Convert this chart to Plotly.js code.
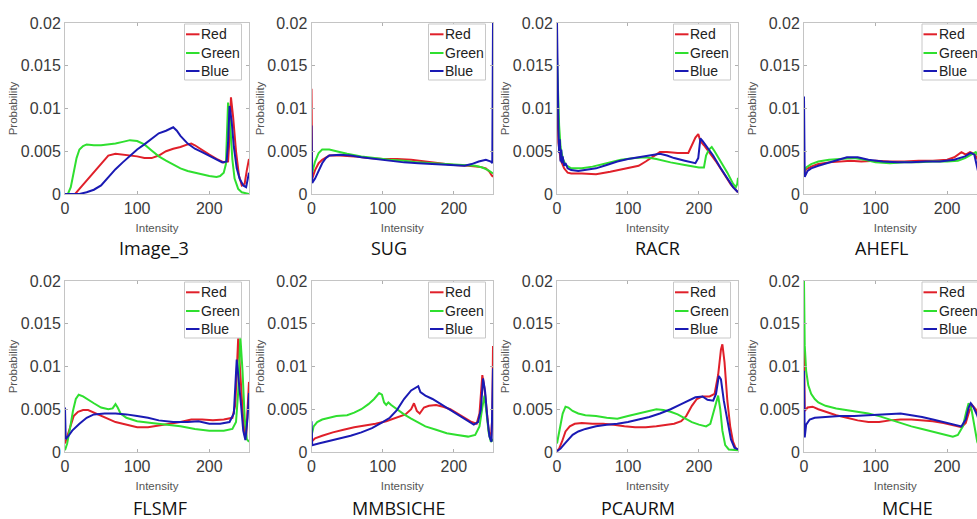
<!DOCTYPE html>
<html>
<head>
<meta charset="utf-8">
<script src="https://cdn.plot.ly/plotly-3.0.1.min.js"></script>
<style>
html,body{margin:0;padding:0;overflow:hidden;background:#fff;}
#chart{width:1000px;height:519px;}
</style>
</head>
<body>
<div id="chart"></div>
<script>
// ---------- data ----------
const panelNames = ["Image_3","SUG","RACR","AHEFL","FLSMF","MMBSICHE","PCAURM","MCHE"];
const channelNames = ["Red","Green","Blue"];
const intensityTicks = [0,100,200];
const probabilityTicks = [0,0.005,0.01,0.015,0.02];
const probabilityTickLabels = ["0","0.005","0.01","0.015","0.02"];

// [intensity, probability]
const image3Red = [[0,0],[14,0],[20,0.0006],[30,0.0016],[40,0.0026],[50,0.0036],[60,0.0045],[70,0.0047],[80,0.0046],[90,0.0045],[100,0.0044],[110,0.0042],[120,0.0042],[130,0.0045],[140,0.005],[150,0.0053],[160,0.0055],[170,0.0058],[175,0.0059],[180,0.0057],[190,0.0052],[200,0.0046],[210,0.0041],[220,0.0037],[226,0.0038],[228,0.0065],[230,0.0113],[233,0.009],[237,0.005],[241,0.0022],[245,0.001],[249,0.0012],[252,0.0028],[255,0.0041]];
const image3Green = [[0,0],[4,0],[8,0.0008],[12,0.0025],[16,0.0042],[20,0.0052],[25,0.0056],[30,0.0058],[40,0.0057],[50,0.0057],[60,0.0058],[70,0.0059],[80,0.0061],[90,0.0063],[100,0.0062],[110,0.0058],[120,0.0051],[130,0.0044],[140,0.0039],[150,0.0034],[160,0.003],[170,0.0027],[180,0.0025],[190,0.0023],[200,0.0021],[210,0.002],[215,0.0021],[220,0.0025],[223,0.0035],[226,0.0107],[229,0.008],[232,0.004],[235,0.0018],[240,0.0006],[245,0.0002],[255,0]];
const image3Blue = [[0,0],[20,0],[30,0.0002],[40,0.0005],[50,0.001],[55,0.0015],[62,0.0022],[70,0.0029],[80,0.0037],[90,0.0045],[100,0.0052],[110,0.0058],[120,0.0065],[130,0.0071],[140,0.0074],[150,0.0078],[155,0.0074],[160,0.0068],[170,0.0059],[180,0.0053],[190,0.0049],[200,0.0045],[210,0.0041],[218,0.0037],[224,0.0038],[226,0.006],[228,0.0103],[231,0.0085],[234,0.0055],[238,0.003],[242,0.0018],[247,0.001],[251,0.0008],[253,0.0015],[255,0.0025]];

const sugRed = [[0,0.0123],[1,0.0018],[5,0.0028],[10,0.0036],[15,0.004],[20,0.0043],[25,0.0045],[40,0.0045],[60,0.0044],[80,0.0042],[100,0.0041],[120,0.0041],[140,0.004],[160,0.0038],[180,0.0036],[200,0.0034],[220,0.0033],[235,0.0032],[245,0.003],[250,0.0026],[253,0.0022],[255,0.002]];
const sugGreen = [[0,0.0024],[1,0.0025],[5,0.0038],[10,0.0048],[15,0.0052],[25,0.0052],[35,0.005],[50,0.0047],[70,0.0044],[90,0.0042],[110,0.004],[130,0.0039],[150,0.0037],[170,0.0036],[190,0.0035],[210,0.0034],[230,0.0033],[240,0.0031],[248,0.0028],[255,0.0024]];
const sugBlue = [[0,0.008],[1,0.0013],[5,0.0018],[10,0.0028],[15,0.0036],[20,0.0042],[25,0.0045],[40,0.0046],[55,0.0045],[70,0.0043],[90,0.0041],[110,0.0039],[130,0.0037],[150,0.0036],[170,0.0035],[190,0.0034],[205,0.0033],[215,0.0033],[225,0.0035],[235,0.0038],[245,0.004],[252,0.0038],[254,0.0036],[255,0.02]];

const racrRed = [[0,0.012],[2,0.006],[5,0.004],[10,0.003],[15,0.0025],[20,0.0024],[35,0.0024],[55,0.0023],[75,0.0026],[100,0.003],[115,0.0033],[125,0.0038],[135,0.0044],[145,0.0049],[155,0.0049],[170,0.0048],[185,0.0048],[190,0.0058],[195,0.0066],[199,0.007],[202,0.0062],[207,0.0057],[215,0.0048],[225,0.0037],[235,0.0024],[245,0.0011],[255,0.0002]];
const racrGreen = [[0,0.016],[1,0.013],[3,0.008],[5,0.0055],[8,0.0042],[12,0.0034],[20,0.003],[35,0.003],[50,0.0032],[70,0.0036],[90,0.004],[110,0.0042],[125,0.0043],[140,0.0041],[160,0.0037],[180,0.0034],[200,0.0031],[207,0.0031],[210,0.0045],[214,0.0052],[218,0.0055],[222,0.005],[230,0.0039],[240,0.0025],[248,0.0012],[252,0.0008],[254,0.0012],[255,0.0019]];
const racrBlue = [[0,0.02],[1,0.011],[2,0.0075],[3,0.0048],[4,0.0064],[5,0.0038],[6,0.0052],[7,0.0036],[8,0.0044],[10,0.0033],[12,0.0036],[15,0.003],[20,0.0028],[30,0.0027],[40,0.0028],[55,0.003],[70,0.0034],[85,0.0038],[100,0.0041],[115,0.0043],[130,0.0045],[145,0.0047],[155,0.0045],[165,0.0042],[180,0.0039],[195,0.0036],[199,0.0042],[202,0.0065],[205,0.0062],[210,0.0056],[220,0.0045],[230,0.0031],[240,0.0018],[248,0.0008],[255,0.0002]];

const aheflRed = [[0,0.0025],[3,0.0029],[10,0.0032],[20,0.0035],[35,0.0037],[50,0.0038],[65,0.0039],[80,0.0038],[100,0.0039],[120,0.0038],[140,0.0038],[160,0.0039],[180,0.0039],[200,0.004],[210,0.0043],[220,0.0049],[226,0.0046],[232,0.0049],[238,0.0047],[243,0.004],[248,0.003],[255,0.002]];
const aheflGreen = [[0,0.0027],[3,0.0031],[10,0.0035],[20,0.0038],[35,0.004],[50,0.0041],[70,0.0042],[85,0.004],[100,0.0037],[120,0.0036],[140,0.0037],[160,0.0037],[180,0.0038],[200,0.0038],[215,0.0039],[225,0.0042],[235,0.0047],[240,0.0049],[245,0.0042],[250,0.003],[255,0.002]];
const aheflBlue = [[0,0.0114],[1,0.002],[5,0.0027],[10,0.003],[20,0.0033],[35,0.0037],[50,0.0041],[60,0.0043],[75,0.0043],[90,0.004],[110,0.0038],[130,0.0037],[150,0.0037],[170,0.0038],[190,0.0038],[210,0.004],[225,0.0044],[233,0.0048],[238,0.0046],[243,0.0025],[247,0.0012],[255,0.0005]];

const flsmfRed = [[0,0.001],[3,0.0018],[7,0.003],[12,0.0042],[18,0.0047],[25,0.0049],[32,0.0049],[40,0.0046],[50,0.0042],[60,0.0038],[70,0.0035],[80,0.0033],[90,0.0031],[100,0.0029],[115,0.0029],[130,0.0031],[145,0.0033],[160,0.0035],[175,0.0038],[190,0.0038],[205,0.0037],[220,0.0038],[232,0.004],[236,0.0055],[240,0.0133],[243,0.009],[246,0.005],[249,0.002],[251,0.0018],[253,0.005],[255,0.0082]];
const flsmfGreen = [[0,0.0002],[3,0.001],[7,0.0028],[11,0.0048],[15,0.0062],[19,0.0067],[25,0.0065],[32,0.0061],[40,0.0057],[50,0.0052],[60,0.005],[66,0.0051],[70,0.0056],[73,0.0052],[77,0.0045],[85,0.004],[100,0.0036],[120,0.0034],[140,0.0032],[160,0.003],[180,0.0027],[200,0.0025],[220,0.0025],[232,0.0027],[237,0.0035],[240,0.007],[243,0.0135],[246,0.0095],[249,0.004],[252,0.0015],[255,0.0012]];
const flsmfBlue = [[0,0.0052],[1,0.0015],[5,0.0019],[10,0.0025],[20,0.0033],[30,0.004],[40,0.0044],[55,0.0045],[70,0.0045],[85,0.0044],[100,0.0042],[115,0.004],[130,0.0037],[150,0.0035],[170,0.0035],[185,0.0036],[200,0.0033],[215,0.0033],[228,0.0035],[234,0.0045],[238,0.0108],[241,0.0085],[244,0.0055],[247,0.0025],[250,0.0014],[253,0.004],[255,0.0069]];

const mmbsicheRed = [[0,0.0012],[5,0.0016],[15,0.0019],[30,0.0023],[45,0.0026],[60,0.0029],[75,0.0031],[90,0.0033],[105,0.0036],[120,0.004],[132,0.0044],[140,0.005],[144,0.0057],[148,0.0048],[152,0.0045],[158,0.0052],[165,0.0054],[175,0.0055],[185,0.0053],[195,0.005],[205,0.0045],[215,0.004],[225,0.0035],[232,0.0033],[236,0.0045],[240,0.009],[243,0.0075],[246,0.005],[249,0.0025],[252,0.0015],[254,0.004],[255,0.0124]];
const mmbsicheGreen = [[0,0.0019],[3,0.003],[8,0.0035],[15,0.0038],[25,0.004],[35,0.0042],[50,0.0043],[60,0.0046],[70,0.005],[80,0.0056],[88,0.0062],[95,0.0069],[99,0.0067],[102,0.0058],[105,0.0055],[108,0.0058],[112,0.0055],[120,0.005],[130,0.0044],[140,0.0039],[150,0.0034],[160,0.003],[175,0.0026],[190,0.0022],[205,0.002],[220,0.0018],[230,0.002],[236,0.003],[240,0.0052],[243,0.0066],[246,0.0045],[249,0.0022],[252,0.0012],[255,0.0015]];
const mmbsicheBlue = [[0,0.0036],[1,0.0008],[10,0.001],[25,0.0013],[40,0.0016],[55,0.0019],[70,0.0023],[85,0.0028],[100,0.0035],[110,0.004],[120,0.0049],[130,0.0062],[140,0.0072],[150,0.0077],[153,0.007],[160,0.0066],[170,0.0062],[180,0.0057],[190,0.0052],[200,0.0046],[210,0.0041],[220,0.0036],[228,0.0032],[234,0.0035],[238,0.005],[241,0.0086],[244,0.007],[247,0.004],[250,0.0018],[253,0.0012],[255,0.0098]];

const pcaurmRed = [[0,0.0001],[3,0.0004],[7,0.0012],[12,0.0024],[18,0.003],[25,0.0033],[35,0.0034],[50,0.0033],[65,0.0033],[80,0.0032],[95,0.003],[110,0.0029],[125,0.0029],[140,0.003],[155,0.0032],[165,0.0033],[175,0.0036],[182,0.0042],[190,0.0054],[197,0.0062],[205,0.0065],[215,0.0065],[222,0.0068],[227,0.009],[231,0.012],[233,0.0126],[236,0.0105],[240,0.006],[244,0.003],[248,0.0012],[252,0.0004],[255,0.0002]];
const pcaurmGreen = [[0,0.001],[2,0.0018],[5,0.0032],[8,0.0045],[12,0.0053],[16,0.0052],[22,0.0048],[30,0.0045],[40,0.0043],[55,0.0042],[70,0.004],[85,0.0039],[100,0.0042],[115,0.0045],[130,0.0048],[140,0.005],[150,0.0049],[160,0.0047],[170,0.0044],[180,0.0039],[190,0.0035],[200,0.0032],[210,0.003],[216,0.0033],[220,0.0045],[224,0.006],[227,0.0066],[230,0.005],[233,0.0025],[237,0.0008],[242,0.0003],[255,0.0002]];
const pcaurmBlue = [[0,0.0001],[5,0.0004],[10,0.0009],[15,0.0014],[22,0.002],[30,0.0024],[40,0.0027],[55,0.003],[70,0.0032],[85,0.0033],[100,0.0035],[115,0.0038],[130,0.0041],[145,0.0045],[160,0.005],[175,0.0056],[185,0.006],[195,0.0064],[205,0.0065],[212,0.0061],[220,0.006],[224,0.0068],[228,0.0089],[231,0.0085],[235,0.006],[240,0.0035],[245,0.0015],[250,0.0005],[255,0.0003]];

const mcheRed = [[0,0.0123],[1,0.0048],[5,0.0052],[12,0.0053],[20,0.005],[30,0.0047],[45,0.0043],[60,0.004],[75,0.0037],[90,0.0035],[105,0.0035],[120,0.0037],[135,0.0038],[150,0.0038],[165,0.0037],[180,0.0036],[195,0.0034],[210,0.0031],[220,0.0029],[226,0.0034],[231,0.0048],[235,0.0055],[240,0.005],[245,0.004],[250,0.003],[255,0.002]];
const mcheGreen = [[0,0.02],[1,0.0125],[3,0.0095],[6,0.0078],[10,0.0068],[15,0.0062],[20,0.0058],[30,0.0054],[45,0.0051],[60,0.0049],[75,0.0047],[90,0.0045],[105,0.0042],[120,0.0038],[135,0.0034],[150,0.003],[165,0.0027],[180,0.0024],[195,0.0021],[208,0.0018],[215,0.002],[222,0.003],[227,0.0048],[230,0.0057],[234,0.005],[238,0.0032],[242,0.0012],[246,0.0005],[255,0.0003]];
const mcheBlue = [[0,0.0095],[1,0.0017],[3,0.0032],[8,0.0038],[15,0.004],[30,0.0041],[50,0.0042],[70,0.0042],[90,0.0043],[105,0.0044],[120,0.0045],[135,0.0045],[150,0.0043],[165,0.0041],[180,0.0038],[195,0.0035],[210,0.0032],[220,0.003],[226,0.0038],[230,0.0052],[233,0.0057],[237,0.0052],[242,0.0043],[247,0.003],[255,0.002]];

const panelSeries = [
  [image3Red, image3Green, image3Blue],
  [sugRed, sugGreen, sugBlue],
  [racrRed, racrGreen, racrBlue],
  [aheflRed, aheflGreen, aheflBlue],
  [flsmfRed, flsmfGreen, flsmfBlue],
  [mmbsicheRed, mmbsicheGreen, mmbsicheBlue],
  [pcaurmRed, pcaurmGreen, pcaurmBlue],
  [mcheRed, mcheGreen, mcheBlue]
];

// ---------- styling / layout (pixels) ----------
const W = 1000, H = 519;
const channelColors = ["#e0202a", "#2fdf2f", "#1a1ab4"];
const colPx = [[65,249],[311.5,493],[557,738],[804,986.5]];
const rowPx = [[23,194],[281,452]];
const titleCx = [154, 389, 657, 881, 159.5, 399, 638, 907];
const titleCy = [248, 508];
const px = v => v / W;
const py = v => 1 - v / H;

const traces = [];
const layout = {
  width: W, height: H,
  margin: {l:0, r:0, t:0, b:0},
  paper_bgcolor: "#fff", plot_bgcolor: "#fff",
  showlegend: false,
  shapes: [], annotations: []
};

const tickFont = {family: "Liberation Sans, Arial, sans-serif", size: 16, color: "#3a3a3a"};
const axTitleFont = {family: "Liberation Sans, Arial, sans-serif", size: 11.5, color: "#555"};

panelNames.forEach((name, i) => {
  const row = Math.floor(i / 4), col = i % 4;
  const sfx = i === 0 ? "" : String(i + 1);
  const [l, r] = colPx[col];
  const [t, b] = rowPx[row];

  layout["xaxis" + sfx] = {
    domain: [px(l), px(r)], anchor: "y" + sfx, range: [0, 255],
    showline: true, linecolor: "#c4c4c4", linewidth: 1, mirror: "ticks",
    ticks: "inside", ticklen: 3, tickcolor: "#b0b0b0",
    tickvals: intensityTicks, tickfont: tickFont,
    showgrid: false, zeroline: false, fixedrange: true,
    title: {text: "Intensity", font: axTitleFont, standoff: 7}
  };
  layout["yaxis" + sfx] = {
    domain: [py(b), py(t)], anchor: "x" + sfx, range: [0, 0.02],
    showline: true, linecolor: "#c4c4c4", linewidth: 1, mirror: "ticks",
    ticks: "inside", ticklen: 3, tickcolor: "#b0b0b0",
    tickvals: probabilityTicks, ticktext: probabilityTickLabels, tickfont: tickFont,
    showgrid: false, zeroline: false, fixedrange: true,
    title: {text: "Probability", font: axTitleFont, standoff: 0}
  };

  panelSeries[i].forEach((series, c) => {
    traces.push({
      type: "scatter", mode: "lines", name: channelNames[c],
      x: series.map(p => p[0]), y: series.map(p => p[1]),
      xaxis: "x" + sfx, yaxis: "y" + sfx,
      line: {color: channelColors[c], width: 2},
      hoverinfo: "skip"
    });
  });

  // legend box (top-right inside axes)
  const boxR = r - 7.5, boxL = boxR - 57, boxT = t + 1, boxB = t + 57;
  layout.shapes.push({
    type: "rect", xref: "paper", yref: "paper",
    x0: px(boxL), x1: px(boxR), y0: py(boxB), y1: py(boxT),
    line: {color: "#c8c8c8", width: 1}, fillcolor: "#fff", layer: "above"
  });
  const entryY = [t + 11.3, t + 30, t + 48];
  channelNames.forEach((cn, c) => {
    layout.shapes.push({
      type: "line", xref: "paper", yref: "paper",
      x0: px(boxL + 1.5), x1: px(boxL + 15), y0: py(entryY[c]), y1: py(entryY[c]),
      line: {color: channelColors[c], width: 2}, layer: "above"
    });
    layout.annotations.push({
      xref: "paper", yref: "paper", x: px(boxL + 14.5), y: py(entryY[c]),
      xanchor: "left", yanchor: "middle", showarrow: false, text: cn,
      font: {family: "Liberation Sans, Arial, sans-serif", size: 14, color: "#222"}
    });
  });

  // panel caption
  layout.annotations.push({
    xref: "paper", yref: "paper", x: px(titleCx[i]), y: py(titleCy[row]),
    xanchor: "center", yanchor: "middle", showarrow: false, text: name,
    font: {family: "Open Sans, Noto Sans, sans-serif", size: 18, color: "#111"}
  });
});

Plotly.newPlot("chart", traces, layout, {displayModeBar: false, staticPlot: true});
</script>
</body>
</html>
